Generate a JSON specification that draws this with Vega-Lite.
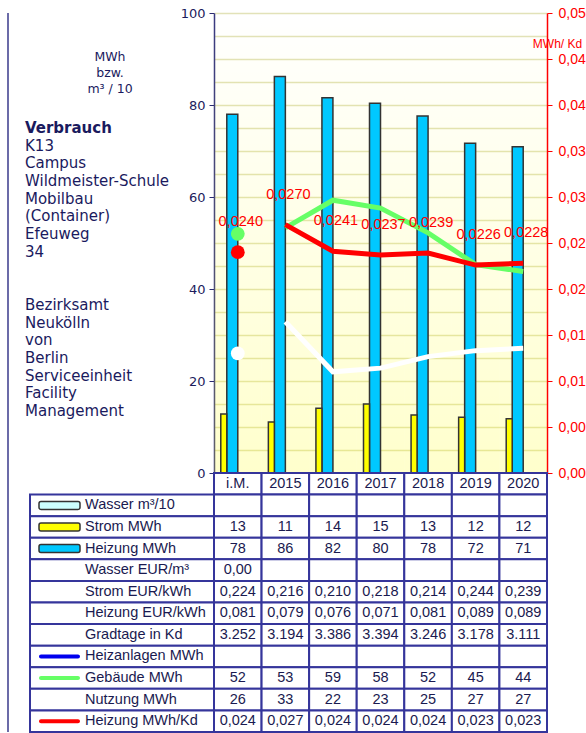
{
  "$schema": "https://vega.github.io/schema/vega-lite/v6.json",
  "padding": {"left": 7, "top": 6, "right": 0, "bottom": 0},
  "background": "white",
  "config": {
    "font": "DejaVu Sans",
    "locale": {"number": {"decimal": ",", "thousands": ".", "grouping": [3], "currency": ["", " €"]}},
    "view": {"stroke": null}
  },
  "datasets": {
    "verbrauch": [
      {"Jahr": "i.M.", "Wasser m³/10": null, "Strom MWh": 12.8, "Heizung MWh": 78.0, "Wasser EUR/m³": 0, "Strom EUR/kWh": 0.224, "Heizung EUR/kWh": 0.081, "Gradtage in Kd": 3252, "Heizanlagen MWh": null, "Gebäude MWh": 52, "Nutzung MWh": 26, "Heizung MWh/Kd": 0.0240},
      {"Jahr": "2015", "Wasser m³/10": null, "Strom MWh": 11.1, "Heizung MWh": 86.2, "Wasser EUR/m³": null, "Strom EUR/kWh": 0.216, "Heizung EUR/kWh": 0.079, "Gradtage in Kd": 3194, "Heizanlagen MWh": null, "Gebäude MWh": 53.3, "Nutzung MWh": 32.9, "Heizung MWh/Kd": 0.0270},
      {"Jahr": "2016", "Wasser m³/10": null, "Strom MWh": 14.1, "Heizung MWh": 81.6, "Wasser EUR/m³": null, "Strom EUR/kWh": 0.210, "Heizung EUR/kWh": 0.076, "Gradtage in Kd": 3386, "Heizanlagen MWh": null, "Gebäude MWh": 59.3, "Nutzung MWh": 22.0, "Heizung MWh/Kd": 0.0241},
      {"Jahr": "2017", "Wasser m³/10": null, "Strom MWh": 15.0, "Heizung MWh": 80.4, "Wasser EUR/m³": null, "Strom EUR/kWh": 0.218, "Heizung EUR/kWh": 0.071, "Gradtage in Kd": 3394, "Heizanlagen MWh": null, "Gebäude MWh": 57.6, "Nutzung MWh": 22.8, "Heizung MWh/Kd": 0.0237},
      {"Jahr": "2018", "Wasser m³/10": null, "Strom MWh": 12.6, "Heizung MWh": 77.6, "Wasser EUR/m³": null, "Strom EUR/kWh": 0.214, "Heizung EUR/kWh": 0.081, "Gradtage in Kd": 3246, "Heizanlagen MWh": null, "Gebäude MWh": 52.2, "Nutzung MWh": 25.3, "Heizung MWh/Kd": 0.0239},
      {"Jahr": "2019", "Wasser m³/10": null, "Strom MWh": 12.1, "Heizung MWh": 71.7, "Wasser EUR/m³": null, "Strom EUR/kWh": 0.244, "Heizung EUR/kWh": 0.089, "Gradtage in Kd": 3178, "Heizanlagen MWh": null, "Gebäude MWh": 45.3, "Nutzung MWh": 26.6, "Heizung MWh/Kd": 0.0226},
      {"Jahr": "2020", "Wasser m³/10": null, "Strom MWh": 11.8, "Heizung MWh": 70.9, "Wasser EUR/m³": null, "Strom EUR/kWh": 0.239, "Heizung EUR/kWh": 0.089, "Gradtage in Kd": 3111, "Heizanlagen MWh": null, "Gebäude MWh": 43.8, "Nutzung MWh": 27.1, "Heizung MWh/Kd": 0.0228}
    ],
    "zeilen": [
      {"zeile": "Wasser m³/10"}, {"zeile": "Strom MWh"}, {"zeile": "Heizung MWh"}, {"zeile": "Wasser EUR/m³"},
      {"zeile": "Strom EUR/kWh"}, {"zeile": "Heizung EUR/kWh"}, {"zeile": "Gradtage in Kd"}, {"zeile": "Heizanlagen MWh"},
      {"zeile": "Gebäude MWh"}, {"zeile": "Nutzung MWh"}, {"zeile": "Heizung MWh/Kd"}
    ],
    "beschriftung": [
      {"zeile": 6, "text": "Verbrauch"},
      {"zeile": 7, "text": "K13"},
      {"zeile": 8, "text": "Campus"},
      {"zeile": 9, "text": "Wildmeister-Schule"},
      {"zeile": 10, "text": "Mobilbau"},
      {"zeile": 11, "text": "(Container)"},
      {"zeile": 12, "text": "Efeuweg"},
      {"zeile": 13, "text": "34"},
      {"zeile": 16, "text": "Bezirksamt"},
      {"zeile": 17, "text": "Neukölln"},
      {"zeile": 18, "text": "von"},
      {"zeile": 19, "text": "Berlin"},
      {"zeile": 20, "text": "Serviceeinheit"},
      {"zeile": 21, "text": "Facility"},
      {"zeile": 22, "text": "Management"}
    ]
  },
  "columns": 2,
  "spacing": 0,
  "bounds": "flush",
  "concat": [
    {
      "width": 206,
      "height": 460,
      "data": {"name": "beschriftung"},
      "layer": [
        {
          "data": {"values": [{}]},
          "mark": {"type": "rule", "color": "#6b6ba8", "strokeWidth": 2},
          "encoding": {"x": {"datum": 0, "type": "quantitative", "scale": {"domain": [0, 206]}, "axis": null}}
        },
        {
          "transform": [{"filter": "datum.text !== 'Verbrauch'"}],
          "mark": {"type": "text", "align": "left", "baseline": "middle", "fontSize": 15, "color": "#1a1a5e"},
          "encoding": {
            "x": {"datum": 17, "type": "quantitative", "scale": {"domain": [0, 206]}, "axis": null},
            "y": {"field": "zeile", "type": "ordinal", "scale": {"domain": [0,1,2,3,4,5,6,7,8,9,10,11,12,13,14,15,16,17,18,19,20,21,22,23,24,25], "paddingInner": 0, "paddingOuter": 0}, "axis": null},
            "text": {"field": "text"}
          }
        },
        {
          "transform": [{"filter": "datum.text === 'Verbrauch'"}],
          "mark": {"type": "text", "align": "left", "baseline": "middle", "fontSize": 15, "fontWeight": "bold", "color": "#1a1a5e"},
          "encoding": {
            "x": {"datum": 17, "type": "quantitative", "scale": {"domain": [0, 206]}, "axis": null},
            "y": {"field": "zeile", "type": "ordinal", "scale": {"domain": [0,1,2,3,4,5,6,7,8,9,10,11,12,13,14,15,16,17,18,19,20,21,22,23,24,25], "paddingInner": 0, "paddingOuter": 0}, "axis": null},
            "text": {"field": "text"}
          }
        },
        {
          "data": {"values": [{}]},
          "mark": {"type": "text", "align": "center", "baseline": "middle", "fontSize": 12.5, "lineHeight": 16, "dy": 0, "color": "#1a1a5e"},
          "encoding": {
            "x": {"datum": 102, "type": "quantitative", "scale": {"domain": [0, 206]}, "axis": null},
            "y": {"datum": 2, "type": "ordinal", "scale": {"domain": [0,1,2,3,4,5,6,7,8,9,10,11,12,13,14,15,16,17,18,19,20,21,22,23,24,25], "paddingInner": 0, "paddingOuter": 0}, "axis": null},
            "text": {"value": ["MWh", "bzw.", "m³ / 10"]}
          }
        }
      ]
    },
    {
      "width": 333,
      "height": 460,
      "data": {"name": "verbrauch"},
      "encoding": {
        "x": {"field": "Jahr", "type": "ordinal", "scale": {"domain": ["i.M.", "2015", "2016", "2017", "2018", "2019", "2020"], "paddingInner": 0, "paddingOuter": 0}, "axis": null}
      },
      "layer": [
        {
          "layer": [
            {
              "mark": {"type": "rect", "fill": {"gradient": "linear", "x1": 0, "y1": 0, "x2": 0, "y2": 1, "stops": [{"offset": 0, "color": "rgba(255,255,0,0)"}, {"offset": 1, "color": "rgba(255,255,0,0.2)"}]}},
              "encoding": {}
            },
            {
              "mark": {"type": "bar", "size": 11, "xOffset": -5.5, "fill": "#00C8FF", "stroke": "#333333", "strokeWidth": 1.5},
              "encoding": {
                "y": {
                  "field": "Heizung MWh", "type": "quantitative", "title": null,
                  "scale": {"domain": [0, 100], "nice": false},
                  "axis": {
                    "orient": "left", "title": null,
                    "values": [0,5,10,15,20,25,30,35,40,45,50,55,60,65,70,75,80,85,90,95,100],
                    "labelExpr": "datum.value % 20 === 0 ? datum.label : ''",
                    "labelFontSize": 13, "labelColor": "#1c1c5c", "labelPadding": 4, "labelOverlap": false,
                    "tickSize": 5,
                    "tickColor": {"condition": {"test": "datum.value % 20 === 0", "value": "#2a2a70"}, "value": "rgba(0,0,0,0)"},
                    "domainColor": "#3a3a80", "domainWidth": 1.5,
                    "grid": true, "gridColor": "#E2E2B8", "gridWidth": 1.5,
                    "minExtent": 40, "maxExtent": 40
                  }
                }
              }
            },
            {
              "mark": {"type": "bar", "size": 6, "xOffset": -14, "fill": "#FFFF00", "stroke": "#333333", "strokeWidth": 1.5},
              "encoding": {"y": {"field": "Strom MWh", "type": "quantitative", "title": null, "scale": {"domain": [0, 100], "nice": false},
                  "axis": {
                    "orient": "left", "title": null,
                    "values": [0,5,10,15,20,25,30,35,40,45,50,55,60,65,70,75,80,85,90,95,100],
                    "labelExpr": "datum.value % 20 === 0 ? datum.label : ''",
                    "labelFontSize": 13, "labelColor": "#1c1c5c", "labelPadding": 4, "labelOverlap": false,
                    "tickSize": 5,
                    "tickColor": {"condition": {"test": "datum.value % 20 === 0", "value": "#2a2a70"}, "value": "rgba(0,0,0,0)"},
                    "domainColor": "#3a3a80", "domainWidth": 1.5,
                    "grid": true, "gridColor": "#E2E2B8", "gridWidth": 1.5,
                    "minExtent": 40, "maxExtent": 40
                  }}}
            },
            {
              "transform": [{"filter": "datum.Jahr !== 'i.M.'"}],
              "mark": {"type": "line", "color": "#66FF66", "strokeWidth": 5},
              "encoding": {"y": {"field": "Gebäude MWh", "type": "quantitative", "title": null, "scale": {"domain": [0, 100], "nice": false},
                  "axis": {
                    "orient": "left", "title": null,
                    "values": [0,5,10,15,20,25,30,35,40,45,50,55,60,65,70,75,80,85,90,95,100],
                    "labelExpr": "datum.value % 20 === 0 ? datum.label : ''",
                    "labelFontSize": 13, "labelColor": "#1c1c5c", "labelPadding": 4, "labelOverlap": false,
                    "tickSize": 5,
                    "tickColor": {"condition": {"test": "datum.value % 20 === 0", "value": "#2a2a70"}, "value": "rgba(0,0,0,0)"},
                    "domainColor": "#3a3a80", "domainWidth": 1.5,
                    "grid": true, "gridColor": "#E2E2B8", "gridWidth": 1.5,
                    "minExtent": 40, "maxExtent": 40
                  }}}
            },
            {
              "transform": [{"filter": "datum.Jahr === 'i.M.'"}],
              "mark": {"type": "circle", "color": "#66FF66", "size": 190, "opacity": 1},
              "encoding": {"y": {"field": "Gebäude MWh", "type": "quantitative", "title": null, "scale": {"domain": [0, 100], "nice": false},
                  "axis": {
                    "orient": "left", "title": null,
                    "values": [0,5,10,15,20,25,30,35,40,45,50,55,60,65,70,75,80,85,90,95,100],
                    "labelExpr": "datum.value % 20 === 0 ? datum.label : ''",
                    "labelFontSize": 13, "labelColor": "#1c1c5c", "labelPadding": 4, "labelOverlap": false,
                    "tickSize": 5,
                    "tickColor": {"condition": {"test": "datum.value % 20 === 0", "value": "#2a2a70"}, "value": "rgba(0,0,0,0)"},
                    "domainColor": "#3a3a80", "domainWidth": 1.5,
                    "grid": true, "gridColor": "#E2E2B8", "gridWidth": 1.5,
                    "minExtent": 40, "maxExtent": 40
                  }}}
            },
            {
              "transform": [{"filter": "datum.Jahr !== 'i.M.'"}],
              "mark": {"type": "line", "color": "#FFFFFF", "strokeWidth": 5},
              "encoding": {"y": {"field": "Nutzung MWh", "type": "quantitative", "title": null, "scale": {"domain": [0, 100], "nice": false},
                  "axis": {
                    "orient": "left", "title": null,
                    "values": [0,5,10,15,20,25,30,35,40,45,50,55,60,65,70,75,80,85,90,95,100],
                    "labelExpr": "datum.value % 20 === 0 ? datum.label : ''",
                    "labelFontSize": 13, "labelColor": "#1c1c5c", "labelPadding": 4, "labelOverlap": false,
                    "tickSize": 5,
                    "tickColor": {"condition": {"test": "datum.value % 20 === 0", "value": "#2a2a70"}, "value": "rgba(0,0,0,0)"},
                    "domainColor": "#3a3a80", "domainWidth": 1.5,
                    "grid": true, "gridColor": "#E2E2B8", "gridWidth": 1.5,
                    "minExtent": 40, "maxExtent": 40
                  }}}
            },
            {
              "transform": [{"filter": "datum.Jahr === 'i.M.'"}],
              "mark": {"type": "circle", "color": "#FFFFFF", "size": 190, "opacity": 1},
              "encoding": {"y": {"field": "Nutzung MWh", "type": "quantitative", "title": null, "scale": {"domain": [0, 100], "nice": false},
                  "axis": {
                    "orient": "left", "title": null,
                    "values": [0,5,10,15,20,25,30,35,40,45,50,55,60,65,70,75,80,85,90,95,100],
                    "labelExpr": "datum.value % 20 === 0 ? datum.label : ''",
                    "labelFontSize": 13, "labelColor": "#1c1c5c", "labelPadding": 4, "labelOverlap": false,
                    "tickSize": 5,
                    "tickColor": {"condition": {"test": "datum.value % 20 === 0", "value": "#2a2a70"}, "value": "rgba(0,0,0,0)"},
                    "domainColor": "#3a3a80", "domainWidth": 1.5,
                    "grid": true, "gridColor": "#E2E2B8", "gridWidth": 1.5,
                    "minExtent": 40, "maxExtent": 40
                  }}}
            }
          ]
        },
        {
          "layer": [
            {
              "transform": [{"filter": "datum.Jahr !== 'i.M.'"}],
              "mark": {"type": "line", "color": "#FF0000", "strokeWidth": 5},
              "encoding": {
                "y": {
                  "field": "Heizung MWh/Kd", "type": "quantitative",
                  "scale": {"domain": [0, 0.05], "nice": false},
                  "axis": {
                    "orient": "right", "title": "MWh/ Kd",
                    "titleAngle": 0, "titleColor": "#FF0000", "titleFont": "Liberation Sans", "titleFontSize": 12, "titleFontWeight": "normal",
                    "titleAlign": "center", "titleBaseline": "middle", "titleX": 10, "titleY": 30,
                    "values": [0, 0.005, 0.01, 0.015, 0.02, 0.025, 0.03, 0.035, 0.04, 0.045, 0.05],
                    "format": ".3f",
                    "labelColor": "#FF0000", "labelFont": "Liberation Sans", "labelFontSize": 14, "labelPadding": 6, "labelOverlap": false,
                    "tickColor": "#FF0000", "tickSize": 5,
                    "domainColor": "#FF0000", "domainWidth": 1.5,
                    "grid": false
                  }
                }
              }
            },
            {
              "transform": [{"filter": "datum.Jahr === 'i.M.'"}],
              "mark": {"type": "circle", "color": "#FF0000", "size": 190, "opacity": 1},
              "encoding": {"y": {"field": "Heizung MWh/Kd", "type": "quantitative", "scale": {"domain": [0, 0.05], "nice": false},
                  "axis": {
                    "orient": "right", "title": "MWh/ Kd",
                    "titleAngle": 0, "titleColor": "#FF0000", "titleFont": "Liberation Sans", "titleFontSize": 12, "titleFontWeight": "normal",
                    "titleAlign": "center", "titleBaseline": "middle", "titleX": 10, "titleY": 30,
                    "values": [0, 0.005, 0.01, 0.015, 0.02, 0.025, 0.03, 0.035, 0.04, 0.045, 0.05],
                    "format": ".3f",
                    "labelColor": "#FF0000", "labelFont": "Liberation Sans", "labelFontSize": 14, "labelPadding": 6, "labelOverlap": false,
                    "tickColor": "#FF0000", "tickSize": 5,
                    "domainColor": "#FF0000", "domainWidth": 1.5,
                    "grid": false
                  }}}
            },
            {
              "mark": {"type": "text", "color": "#FF0000", "font": "Liberation Sans", "fontSize": 14.5, "dy": -30, "dx": 3, "baseline": "middle"},
              "encoding": {
                "y": {"field": "Heizung MWh/Kd", "type": "quantitative", "scale": {"domain": [0, 0.05], "nice": false},
                  "axis": {
                    "orient": "right", "title": "MWh/ Kd",
                    "titleAngle": 0, "titleColor": "#FF0000", "titleFont": "Liberation Sans", "titleFontSize": 12, "titleFontWeight": "normal",
                    "titleAlign": "center", "titleBaseline": "middle", "titleX": 10, "titleY": 30,
                    "values": [0, 0.005, 0.01, 0.015, 0.02, 0.025, 0.03, 0.035, 0.04, 0.045, 0.05],
                    "format": ".3f",
                    "labelColor": "#FF0000", "labelFont": "Liberation Sans", "labelFontSize": 14, "labelPadding": 6, "labelOverlap": false,
                    "tickColor": "#FF0000", "tickSize": 5,
                    "domainColor": "#FF0000", "domainWidth": 1.5,
                    "grid": false
                  }},
                "text": {"field": "Heizung MWh/Kd", "type": "quantitative", "format": ".4f"}
              }
            }
          ]
        }
      ],
      "resolve": {"scale": {"y": "independent"}}
    },
    {
      "width": 206,
      "height": 259,
      "data": {"name": "zeilen"},
      "layer": [
        {
          "data": {"values": [{}]},
          "mark": {"type": "rule", "color": "#6b6ba8", "strokeWidth": 2},
          "encoding": {"x": {"datum": 0, "type": "quantitative", "scale": {"domain": [0, 206]}, "axis": null}}
        },
        {
          "mark": {"type": "rect", "fill": "white", "stroke": "#35359b", "strokeWidth": 2},
          "encoding": {
            "x": {"datum": 22, "type": "quantitative", "scale": {"domain": [0, 206]}, "axis": null},
            "x2": {"datum": 206},
            "y": {"field": "zeile", "type": "nominal", "scale": {"domain": ["Jahr", "Wasser m³/10", "Strom MWh", "Heizung MWh", "Wasser EUR/m³", "Strom EUR/kWh", "Heizung EUR/kWh", "Gradtage in Kd", "Heizanlagen MWh", "Gebäude MWh", "Nutzung MWh", "Heizung MWh/Kd"], "paddingInner": 0, "paddingOuter": 0}, "axis": null}
          }
        },
        {
          "transform": [{"filter": {"field": "zeile", "oneOf": ["Wasser m³/10", "Strom MWh", "Heizung MWh"]}}],
          "mark": {"type": "bar", "size": 8, "stroke": "#333333", "strokeWidth": 1.5, "cornerRadius": 2},
          "encoding": {
            "x": {"datum": 31, "type": "quantitative", "scale": {"domain": [0, 206]}, "axis": null},
            "x2": {"datum": 72},
            "y": {"field": "zeile", "type": "nominal", "scale": {"domain": ["Jahr", "Wasser m³/10", "Strom MWh", "Heizung MWh", "Wasser EUR/m³", "Strom EUR/kWh", "Heizung EUR/kWh", "Gradtage in Kd", "Heizanlagen MWh", "Gebäude MWh", "Nutzung MWh", "Heizung MWh/Kd"], "paddingInner": 0, "paddingOuter": 0}, "axis": null},
            "color": {"field": "zeile", "type": "nominal", "scale": {"domain": ["Wasser m³/10", "Strom MWh", "Heizung MWh", "Heizanlagen MWh", "Gebäude MWh", "Heizung MWh/Kd"], "range": ["#CCFFFF", "#FFFF00", "#00C8FF", "#0000EE", "#66FF66", "#FF0000"]}, "legend": null}
          }
        },
        {
          "transform": [{"filter": {"field": "zeile", "oneOf": ["Heizanlagen MWh", "Gebäude MWh", "Heizung MWh/Kd"]}}],
          "mark": {"type": "bar", "size": 4, "cornerRadius": 2},
          "encoding": {
            "x": {"datum": 31, "type": "quantitative", "scale": {"domain": [0, 206]}, "axis": null},
            "x2": {"datum": 72},
            "y": {"field": "zeile", "type": "nominal", "scale": {"domain": ["Jahr", "Wasser m³/10", "Strom MWh", "Heizung MWh", "Wasser EUR/m³", "Strom EUR/kWh", "Heizung EUR/kWh", "Gradtage in Kd", "Heizanlagen MWh", "Gebäude MWh", "Nutzung MWh", "Heizung MWh/Kd"], "paddingInner": 0, "paddingOuter": 0}, "axis": null},
            "color": {"field": "zeile", "type": "nominal", "scale": {"domain": ["Wasser m³/10", "Strom MWh", "Heizung MWh", "Heizanlagen MWh", "Gebäude MWh", "Heizung MWh/Kd"], "range": ["#CCFFFF", "#FFFF00", "#00C8FF", "#0000EE", "#66FF66", "#FF0000"]}, "legend": null}
          }
        },
        {
          "mark": {"type": "text", "align": "left", "baseline": "middle", "font": "Liberation Sans", "fontSize": 14.5, "color": "#1a1a50"},
          "encoding": {
            "x": {"datum": 77, "type": "quantitative", "scale": {"domain": [0, 206]}, "axis": null},
            "y": {"field": "zeile", "type": "nominal", "scale": {"domain": ["Jahr", "Wasser m³/10", "Strom MWh", "Heizung MWh", "Wasser EUR/m³", "Strom EUR/kWh", "Heizung EUR/kWh", "Gradtage in Kd", "Heizanlagen MWh", "Gebäude MWh", "Nutzung MWh", "Heizung MWh/Kd"], "paddingInner": 0, "paddingOuter": 0}, "axis": null},
            "text": {"field": "zeile"}
          }
        }
      ]
    },
    {
      "width": 333,
      "height": 259,
      "data": {"name": "verbrauch"},
      "transform": [{"fold": ["Jahr", "Wasser m³/10", "Strom MWh", "Heizung MWh", "Wasser EUR/m³", "Strom EUR/kWh", "Heizung EUR/kWh", "Gradtage in Kd", "Heizanlagen MWh", "Gebäude MWh", "Nutzung MWh", "Heizung MWh/Kd"], "as": ["zeile", "wert"]}],
      "encoding": {
        "x": {"field": "Jahr", "type": "ordinal", "scale": {"domain": ["i.M.", "2015", "2016", "2017", "2018", "2019", "2020"], "paddingInner": 0, "paddingOuter": 0}, "axis": null},
        "y": {"field": "zeile", "type": "nominal", "scale": {"domain": ["Jahr", "Wasser m³/10", "Strom MWh", "Heizung MWh", "Wasser EUR/m³", "Strom EUR/kWh", "Heizung EUR/kWh", "Gradtage in Kd", "Heizanlagen MWh", "Gebäude MWh", "Nutzung MWh", "Heizung MWh/Kd"], "paddingInner": 0, "paddingOuter": 0}, "axis": null}
      },
      "layer": [
        {"mark": {"type": "rect", "fill": "white", "stroke": "#35359b", "strokeWidth": 2}},
        {
          "transform": [{"filter": {"field": "zeile", "equal": "Jahr"}}],
          "mark": {"type": "text", "font": "Liberation Sans", "fontSize": 14.5, "color": "#1a1a50", "baseline": "middle"},
          "encoding": {"text": {"field": "wert", "type": "nominal"}}
        },
        {
          "transform": [{"filter": {"field": "zeile", "oneOf": ["Strom MWh", "Heizung MWh", "Gebäude MWh", "Nutzung MWh"]}}, {"filter": "datum.wert != null"}],
          "mark": {"type": "text", "font": "Liberation Sans", "fontSize": 14.5, "color": "#1a1a50", "baseline": "middle"},
          "encoding": {"text": {"field": "wert", "type": "quantitative", "format": ".0f"}}
        },
        {
          "transform": [{"filter": {"field": "zeile", "oneOf": ["Strom EUR/kWh", "Heizung EUR/kWh", "Heizung MWh/Kd"]}}, {"filter": "datum.wert != null"}],
          "mark": {"type": "text", "font": "Liberation Sans", "fontSize": 14.5, "color": "#1a1a50", "baseline": "middle"},
          "encoding": {"text": {"field": "wert", "type": "quantitative", "format": ".3f"}}
        },
        {
          "transform": [{"filter": {"field": "zeile", "equal": "Wasser EUR/m³"}}, {"filter": "datum.wert != null"}],
          "mark": {"type": "text", "font": "Liberation Sans", "fontSize": 14.5, "color": "#1a1a50", "baseline": "middle"},
          "encoding": {"text": {"field": "wert", "type": "quantitative", "format": ".2f"}}
        },
        {
          "transform": [{"filter": {"field": "zeile", "equal": "Gradtage in Kd"}}, {"filter": "datum.wert != null"}],
          "mark": {"type": "text", "font": "Liberation Sans", "fontSize": 14.5, "color": "#1a1a50", "baseline": "middle"},
          "encoding": {"text": {"field": "wert", "type": "quantitative", "format": ",.0f"}}
        }
      ]
    }
  ]
}
